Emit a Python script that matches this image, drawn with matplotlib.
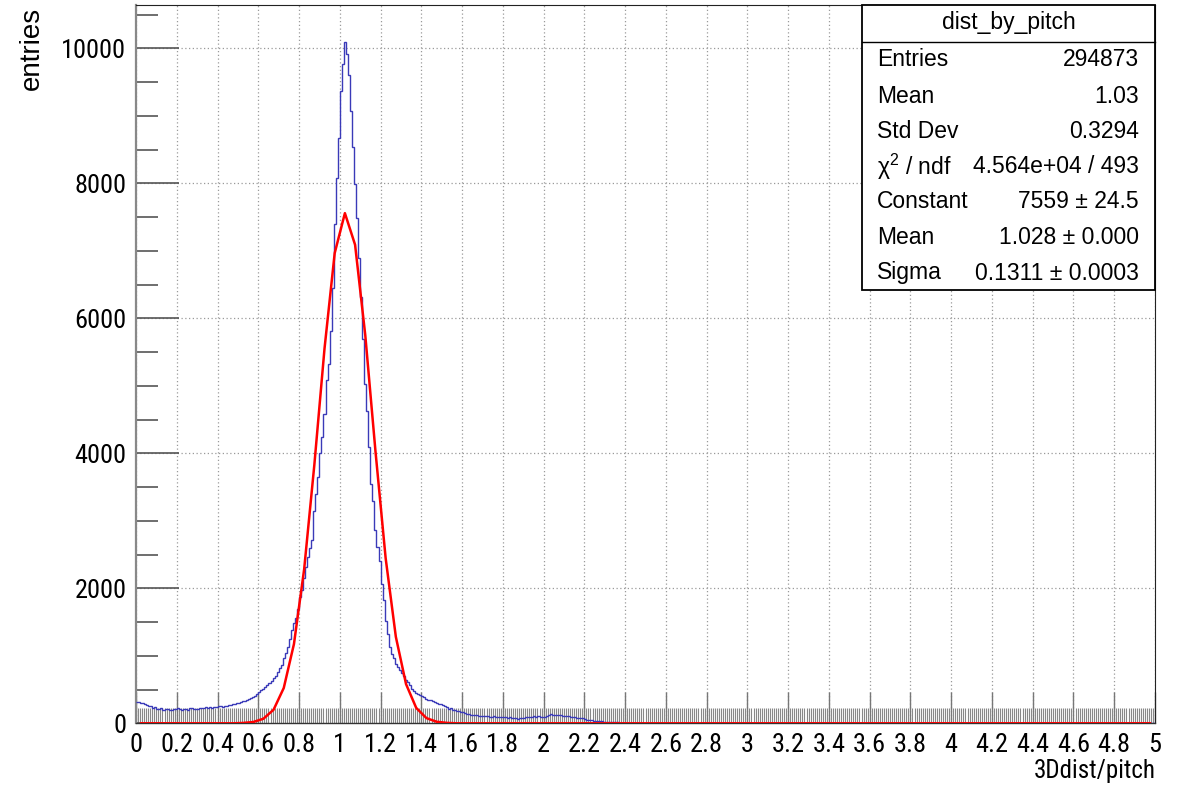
import numpy as np
import matplotlib
matplotlib.use('Agg')
import matplotlib.pyplot as plt
from matplotlib.patches import Rectangle
from matplotlib.ticker import MultipleLocator, FixedLocator

# ---- data -------------------------------------------------------------
# histogram contents, 500 bins of width 0.01 from 0 to 5
counts = ([315, 318, 305, 300, 290, 270, 262, 250, 228, 235,
           215, 210, 225, 200, 205, 210, 195, 190, 205, 215,
           225, 205, 200, 215, 210, 195, 220, 225, 210, 205,
           215, 230, 225, 220, 240, 230, 235, 225, 245, 240,
           255, 250, 240, 260, 255, 275, 270, 285, 290, 300,
           305, 315, 330, 325, 345, 360, 370, 390, 410, 430,
           470, 490, 510, 540, 560, 590, 625, 665, 700, 760,
           820, 870, 960, 1040, 1130, 1250, 1380, 1480, 1560, 1700,
           1870, 1980, 2150, 2310, 2460, 2600, 2710, 3150, 3400, 3650,
           4000, 4240, 4580, 5080, 5330, 5810, 6450, 7400, 8080, 8670,
           9360, 9760, 10100, 9910, 9610, 9070, 8530, 7990, 7490, 6900,
           6310, 5700, 5030, 4630, 4090, 3550, 3300, 2860, 2610, 2410,
           2070, 1820, 1520, 1330, 1130, 1030, 960, 880, 830, 790,
           740, 700, 640, 610, 560, 513, 480, 450, 439, 420,
           400, 385, 365, 350, 340, 330, 310, 300, 291, 280,
           265, 255, 240, 217, 220, 200, 195, 185, 177, 170,
           165, 150, 140, 135, 128, 130, 122, 118, 112, 115,
           108, 110, 105, 100, 98, 102, 95, 97, 93, 90,
           93, 88, 85, 90, 80, 78, 75, 69, 72, 80,
           85, 90, 95, 100, 98, 103, 100, 105, 98, 93,
           95, 110, 125, 143, 130, 120, 125, 118, 120, 115,
           110, 108, 103, 100, 95, 90, 85, 80, 79, 75,
           65, 55, 50, 44, 40, 35, 32, 30, 28, 25,
           22, 20, 20, 18, 15, 14, 12, 10, 11, 10,
           9, 8, 10, 7, 6, 8, 5, 6, 4, 5,
           3, 4, 2, 3, 2, 1, 2, 1, 1, 0,
           0, 1, 0, 0, 1, 0, 0, 0, 1, 0,
           0, 0, 0, 1, 0, 0, 0, 0, 0, 0]
          + [0] * 220)

# gaus fit curve, sampled every 0.05 starting at 0.025 (100 points)
fit_y = ([0] * 10
         + [4.8, 19, 67, 201, 523, 1174, 2280, 3826, 5551, 6966, 7557,
            7089, 5749, 4031, 2445, 1281, 581, 228, 77, 23, 6]
         + [0] * 69)

x_ticks = [0, 0.2, 0.4, 0.6, 0.8, 1, 1.2, 1.4, 1.6, 1.8, 2, 2.2, 2.4, 2.6,
           2.8, 3, 3.2, 3.4, 3.6, 3.8, 4, 4.2, 4.4, 4.6, 4.8, 5]
x_tick_labels = ['0', '0.2', '0.4', '0.6', '0.8', '1', '1.2', '1.4', '1.6',
                 '1.8', '2', '2.2', '2.4', '2.6', '2.8', '3', '3.2', '3.4',
                 '3.6', '3.8', '4', '4.2', '4.4', '4.6', '4.8', '5']
y_ticks = [0, 2000, 4000, 6000, 8000, 10000]
y_tick_labels = ['0', '2000', '4000', '6000', '8000', '10000']

x_label = '3Ddist/pitch'
y_label = 'entries'
stats_title = 'dist_by_pitch'
stats_names = ['Entries', 'Mean', 'Std Dev', '\u03c7$^{2}$ / ndf', 'Constant',
               'Mean', 'Sigma']
stats_values = ['294873', '1.03', '0.3294', '4.564e+04 / 493',
                '7559 \u00b1 24.5', '1.028 \u00b1 0.000',
                '0.1311 \u00b1 0.0003']

# ---- figure ---------------------------------------------------------------
plt.rcParams['mathtext.fontset'] = 'custom'
plt.rcParams['mathtext.rm'] = 'Liberation Sans'
plt.rcParams['mathtext.it'] = 'Liberation Sans'

NARROW = ['Roboto Condensed', 'Archivo Narrow', 'Liberation Sans',
          'DejaVu Sans']
REG = ['Liberation Sans', 'DejaVu Sans']

W, H = 1187, 788
fig = plt.figure(figsize=(W / 100, H / 100), dpi=100)
fig.patch.set_facecolor('white')

L, R, T, B = 136, 1155, 5, 723.3
ax = fig.add_axes([L / W, (H - B) / H, (R - L) / W, (B - T) / H])

edges = np.linspace(0, 5, len(counts) + 1)
ax.stairs(counts, edges, color='#3a3ab8', lw=1.0, baseline=None, zorder=3)
fit_x = 0.025 + 0.05 * np.arange(len(fit_y))
ax.plot(fit_x, fit_y, color='#ff0000', lw=1.8, zorder=4)

ax.set_xlim(0, 5)
ax.set_ylim(0, 10641)

ax.xaxis.set_major_locator(FixedLocator(x_ticks))
ax.set_xticklabels(x_tick_labels)
ax.xaxis.set_minor_locator(MultipleLocator(0.01))
ax.yaxis.set_major_locator(FixedLocator(y_ticks))
ax.set_yticklabels(y_tick_labels)
ax.yaxis.set_minor_locator(MultipleLocator(500))

ax.tick_params(axis='x', which='major', direction='in', length=22, width=1.0,
               color='#777777', pad=7, labelsize=19)
ax.tick_params(axis='x', which='minor', direction='in', length=11, width=0.8,
               color='#888888')
ax.tick_params(axis='y', which='major', direction='in', length=31, width=1.2,
               color='#555555', pad=7, labelsize=19)
ax.tick_params(axis='y', which='minor', direction='in', length=16, width=1.2,
               color='#555555')
for lab in ax.get_xticklabels() + ax.get_yticklabels():
    lab.set_family(NARROW)

ax.grid(which='major', color='#9a9a9a', linestyle=(0, (1, 2)), lw=0.9)
ax.set_axisbelow(True)

for s in ['top', 'right']:
    ax.spines[s].set_color('#222222')
    ax.spines[s].set_linewidth(0.8)
ax.spines['left'].set_color('#888888')
ax.spines['left'].set_linewidth(1.6)
ax.spines['bottom'].set_color('#333333')
ax.spines['bottom'].set_linewidth(1.0)


def fx(x):
    return x / W


def fy(y):
    return 1 - y / H


# axis titles
fig.text(fx(1156), fy(771), x_label, ha='right', va='center', fontsize=18,
         family=NARROW)
fig.text(fx(32), fy(7), y_label, ha='center', va='top', rotation=90,
         fontsize=20, family=REG)

# stats box
bx0, by0, bx1, by1 = 862, 5, 1155, 290
fig.add_artist(Rectangle((fx(bx0), fy(by1)), fx(bx1 - bx0), (by1 - by0) / H,
                         transform=fig.transFigure, facecolor='white',
                         edgecolor='black', lw=1.3, zorder=10))
fig.add_artist(plt.Line2D([fx(bx0), fx(bx1)], [fy(41.7), fy(41.7)],
                          transform=fig.transFigure, color='black', lw=1.0,
                          zorder=11))
fig.text(fx((bx0 + bx1) / 2), fy(22), stats_title, ha='center', va='center',
         fontsize=16.5, family=REG, zorder=12)
row_y = [60, 96.5, 131.5, 166.5, 202, 238, 273]
for yy, nm, val in zip(row_y, stats_names, stats_values):
    fig.text(fx(877), fy(yy), nm, ha='left', va='center', fontsize=16.5,
             family=REG, zorder=12)
    fig.text(fx(1139), fy(yy), val, ha='right', va='center', fontsize=16.5,
             family=REG, zorder=12)

fig.savefig('out.png', dpi=100)
